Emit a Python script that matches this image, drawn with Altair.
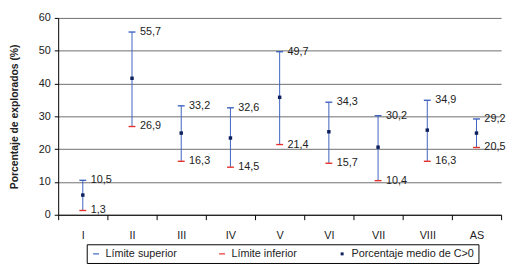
import altair as alt
import pandas as pd

categories = ["I", "II", "III", "IV", "V", "VI", "VII", "VIII", "AS"]
upper = [10.5, 55.7, 33.2, 32.6, 49.7, 34.3, 30.2, 34.9, 29.2]
lower = [1.3, 26.9, 16.3, 14.5, 21.4, 15.7, 10.4, 16.3, 20.5]
mean = [6.0, 41.6, 24.9, 23.4, 35.8, 25.3, 20.6, 25.8, 24.9]

series = ["Límite superior", "Límite inferior", "Porcentaje medio de C>0"]
colors = ["#3d62c0", "#e8302a", "#0d1f5c"]
dash = "M-1,-0.2L1,-0.2L1,0.2L-1,0.2Z"
sq = "M-0.5,-0.5L0.5,-0.5L0.5,0.5L-0.5,0.5Z"
shapes = [dash, dash, sq]

fmt = lambda v: f"{v:.1f}".replace(".", ",")

wide = pd.DataFrame({"cat": categories, "v": lower, "upper": upper})
rows = []
for c, u, l, m in zip(categories, upper, lower, mean):
    rows.append({"cat": c, "serie": series[0], "v": u, "lab": fmt(u)})
    rows.append({"cat": c, "serie": series[1], "v": l, "lab": fmt(l)})
    rows.append({"cat": c, "serie": series[2], "v": m, "lab": ""})
long = pd.DataFrame(rows)

x = alt.X("cat:N", sort=categories, title=None,
          scale=alt.Scale(paddingInner=0, paddingOuter=0),
          axis=alt.Axis(labelAngle=0, tickBand="extent", tickSize=5,
                        domainColor="#000", tickColor="#000",
                        labelPadding=10, labelFontSize=11, labelColor="#222",
                        labelFont="Liberation Sans"))

y = alt.Y("v:Q", title="Porcentaje de explorados (%)",
          scale=alt.Scale(domain=[0, 60], nice=False),
          axis=alt.Axis(values=[0, 10, 20, 30, 40, 50, 60], tickSize=4,
                        domainColor="#000", tickColor="#000",
                        gridColor="#6e6e6e", gridWidth=1,
                        labelFontSize=11, labelColor="#222", labelPadding=4,
                        labelFont="Liberation Sans",
                        titleFont="Liberation Sans", titleFontSize=10.5,
                        titleFontWeight="bold", titleColor="#222", titlePadding=19))

rule = alt.Chart(wide).mark_rule(color="#3d62c0", strokeWidth=1).encode(
    x=x,
    y=y,
    y2="upper:Q",
)

pts = alt.Chart(long).mark_point(filled=True, opacity=1, strokeWidth=0, size=49).encode(
    x=x,
    y=y,
    color=alt.Color("serie:N", sort=series,
                    scale=alt.Scale(domain=series, range=colors),
                    legend=alt.Legend(title=None, orient="none", direction="horizontal",
                                      legendX=29, legendY=230,
                                      strokeColor="#000", padding=4,
                                      labelFontSize=11, labelColor="#222",
                                      labelFont="Liberation Sans",
                                      symbolSize=36, columnPadding=40,
                                      labelOffset=4)),
    shape=alt.Shape("serie:N", sort=series,
                    scale=alt.Scale(domain=series, range=shapes), legend=None),
)

txt = alt.Chart(long).transform_filter("datum.lab != ''").mark_text(
    align="left", baseline="middle", dx=8, fontSize=11, color="#222",
    font="Liberation Sans").encode(
    x=x,
    y=y,
    text="lab:N",
)

chart = alt.layer(rule, pts, txt).properties(
    width=450, height=200,
    autosize=alt.AutoSizeParams(type="none"),
    padding={"left": 51, "top": 8, "right": 6, "bottom": 51},
).configure_view(stroke=None)

chart.save("out.html", embed_options={"renderer": "svg", "actions": False})
